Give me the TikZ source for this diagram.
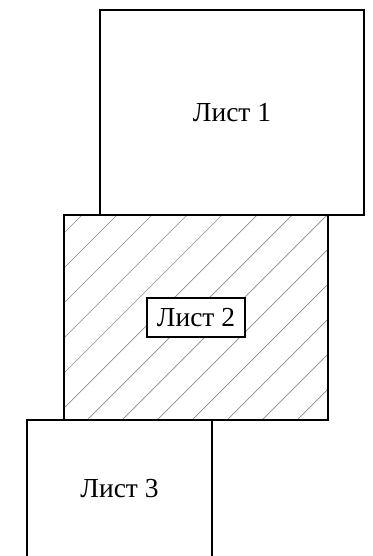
\documentclass[tikz,border=0pt]{standalone}
\usepackage{fontspec}
\setmainfont{Liberation Serif}
\begin{document}
\begin{tikzpicture}[x=1pt,y=-1pt,
  sheet/.style={draw=black,line width=1.3pt,rectangle,inner sep=0pt,
    font=\fontsize{27.5}{30}\selectfont},
  hatch/.style={draw=black!45,line width=0.7pt},
  labelbox/.style={draw=black,line width=1.3pt,fill=white,rectangle,inner sep=0pt,
    minimum width=98pt,minimum height=39pt,font=\fontsize{27.5}{30}\selectfont}]
\useasboundingbox (0,0) rectangle (372,556);
\clip (0,0) rectangle (372,556);
\fill[white] (0,0) rectangle (372,556);
% sheet 1
\node[sheet,minimum width=264pt,minimum height=205pt] (s1) at (232,112.5) {Лист 1};
% sheet 2 hatching
\begin{scope}
  \clip (64,215) rectangle (328,420);
  \foreach \k in {-8,...,8}{
    \draw[hatch] (87+35*\k,420) -- (292+35*\k,215);
  }
\end{scope}
\node[sheet,minimum width=264pt,minimum height=205pt] (s2) at (196,317.5) {};
\node[labelbox] (l2) at (s2.center) {Лист 2};
% sheet 3
\node[sheet,minimum width=185pt,minimum height=138pt] (s3) at (119.5,489) {Лист 3};
\end{tikzpicture}
\end{document}
